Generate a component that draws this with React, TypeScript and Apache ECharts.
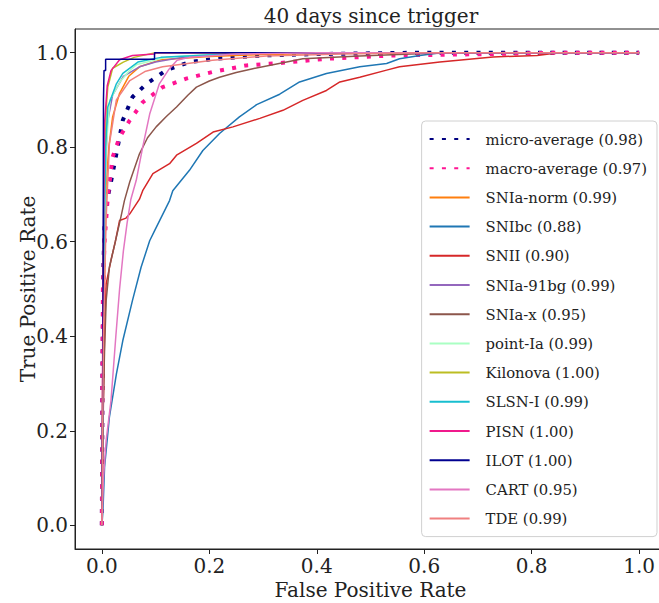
import React, { useEffect, useRef } from "react";
import * as echarts from "echarts";

const TITLE = "40 days since trigger";
const X_NAME = "False Positive Rate";
const Y_NAME = "True Positive Rate";
const TICKS = [0, 0.2, 0.4, 0.6, 0.8, 1.0];

const NAMES = [
  "micro-average (0.98)",
  "macro-average (0.97)",
  "SNIa-norm (0.99)",
  "SNIbc (0.88)",
  "SNII (0.90)",
  "SNIa-91bg (0.99)",
  "SNIa-x (0.95)",
  "point-Ia (0.99)",
  "Kilonova (1.00)",
  "SLSN-I (0.99)",
  "PISN (1.00)",
  "ILOT (1.00)",
  "CART (0.95)",
  "TDE (0.99)",
];

const COLORS = [
  "#000080", "#ff1493", "#ff7f0e", "#1f77b4", "#d62728", "#9467bd", "#8c564b",
  "#aaffc3", "#bcbd22", "#17becf", "#f0198c", "#000090", "#e377c2", "#f08080",
];

// [false positive rate, true positive rate]
const MICRO = [[0,0],[0.001,0.3],[0.003,0.55],[0.005,0.638],[0.01,0.69],[0.017,0.727],[0.027,0.786],[0.039,0.857],[0.057,0.906],[0.083,0.934],[0.12,0.963],[0.163,0.98],[0.21,0.987],[0.3,0.994],[0.4,0.997],[0.6,1],[1,1]];
const MACRO = [[0,0],[0.001,0.3],[0.002,0.5],[0.005,0.6],[0.011,0.694],[0.02,0.779],[0.033,0.821],[0.052,0.857],[0.076,0.895],[0.113,0.927],[0.157,0.945],[0.206,0.959],[0.269,0.973],[0.331,0.978],[0.418,0.987],[0.54,0.994],[0.72,0.997],[0.85,1],[1,1]];
const SNIA_NORM = [[0,0],[0.003,0.4],[0.008,0.72],[0.013,0.8],[0.02,0.864],[0.033,0.914],[0.05,0.95],[0.07,0.97],[0.11,0.985],[0.2,0.992],[0.3,0.996],[0.5,1],[1,1]];
const SNIBC = [[0,0],[0.002,0.03],[0.005,0.123],[0.014,0.229],[0.027,0.32],[0.039,0.391],[0.057,0.476],[0.073,0.546],[0.089,0.602],[0.098,0.623],[0.126,0.687],[0.132,0.708],[0.163,0.751],[0.188,0.793],[0.219,0.829],[0.256,0.864],[0.288,0.89],[0.331,0.912],[0.368,0.938],[0.418,0.956],[0.48,0.97],[0.53,0.977],[0.554,0.987],[0.592,0.994],[0.63,1],[1,1]];
const SNII = [[0,0],[0.002,0.2],[0.005,0.405],[0.008,0.511],[0.017,0.561],[0.025,0.6],[0.033,0.645],[0.045,0.65],[0.052,0.659],[0.07,0.69],[0.076,0.708],[0.095,0.744],[0.126,0.765],[0.139,0.783],[0.176,0.808],[0.207,0.832],[0.244,0.843],[0.294,0.861],[0.337,0.878],[0.374,0.899],[0.418,0.92],[0.443,0.938],[0.48,0.948],[0.53,0.963],[0.554,0.97],[0.629,0.98],[0.728,0.991],[0.81,0.994],[0.85,1],[1,1]];
const SNIA_91BG = [[0,0],[0.003,0.6],[0.01,0.85],[0.02,0.91],[0.04,0.95],[0.07,0.97],[0.1,0.98],[0.15,0.99],[0.2,0.995],[0.3,1],[1,1]];
const SNIA_X = [[0,0],[0.001,0.1],[0.002,0.229],[0.005,0.37],[0.008,0.476],[0.014,0.546],[0.024,0.595],[0.035,0.65],[0.042,0.687],[0.052,0.727],[0.07,0.786],[0.085,0.82],[0.101,0.843],[0.12,0.865],[0.139,0.885],[0.16,0.91],[0.176,0.927],[0.2,0.94],[0.219,0.948],[0.25,0.958],[0.281,0.966],[0.33,0.977],[0.374,0.987],[0.48,0.993],[0.6,0.998],[0.7,1],[1,1]];
const POINT_IA = [[0,0],[0.003,0.5],[0.008,0.8],[0.015,0.9],[0.035,0.94],[0.05,0.96],[0.065,0.975],[0.12,0.99],[0.25,1],[1,1]];
const KILONOVA = [[0,0],[0.003,0.6],[0.008,0.88],[0.011,0.927],[0.014,0.94],[0.02,0.967],[0.04,0.98],[0.06,0.99],[0.1,1],[1,1]];
const SLSN_I = [[0,0],[0.003,0.5],[0.007,0.8],[0.011,0.885],[0.027,0.934],[0.039,0.956],[0.067,0.98],[0.11,0.99],[0.2,0.995],[0.3,1],[1,1]];
const PISN = [[0,0],[0.002,0.5],[0.005,0.85],[0.01,0.93],[0.017,0.962],[0.033,0.985],[0.057,0.994],[0.098,0.997],[0.1,1],[1,1]];
const ILOT = [[0,0],[0.002,0.3],[0.003,0.9],[0.004,0.962],[0.007,0.962],[0.007,0.986],[0.098,0.986],[0.098,1],[1,1]];
const CART = [[0,0],[0.003,0.1],[0.008,0.18],[0.017,0.264],[0.026,0.4],[0.033,0.5],[0.04,0.58],[0.047,0.64],[0.054,0.69],[0.064,0.73],[0.076,0.8],[0.089,0.87],[0.107,0.934],[0.125,0.965],[0.14,0.984],[0.163,0.99],[0.25,0.997],[0.4,1],[1,1]];
const TDE = [[0,0],[0.003,0.4],[0.008,0.65],[0.014,0.807],[0.027,0.9],[0.052,0.941],[0.08,0.96],[0.113,0.97],[0.206,0.984],[0.306,0.993],[0.45,0.997],[0.6,1],[1,1]];

const CURVES = [MICRO, MACRO, SNIA_NORM, SNIBC, SNII, SNIA_91BG, SNIA_X, POINT_IA, KILONOVA, SLSN_I, PISN, ILOT, CART, TDE];

const FONT = "DejaVu Serif";

export default function App() {
  const ref = useRef<HTMLDivElement>(null);
  useEffect(() => {
    if (!ref.current) return;
    const chart = echarts.init(ref.current, null, { renderer: "svg" });
    const series = CURVES.map((data, i) => {
      const dotted = i < 2;
      return {
        type: "line",
        name: NAMES[i],
        data,
        symbol: "none",
        showSymbol: false,
        clip: true,
        z: 2,
        lineStyle: dotted
          ? { color: COLORS[i], width: 4, type: [4, 8.3], cap: "butt" }
          : { color: COLORS[i], width: 1.5 },
        itemStyle: { color: COLORS[i] },
      };
    });
    const axisCommon = {
      type: "value",
      min: -0.05,
      max: 1.05,
      splitLine: { show: false },
      axisLine: { show: true, onZero: false, lineStyle: { color: "#222", width: 1 } },
      axisTick: { show: true, inside: false, length: 5, customValues: TICKS, lineStyle: { color: "#222", width: 1 } },
      axisLabel: {
        customValues: TICKS,
        formatter: (v: number) => v.toFixed(1),
        fontFamily: FONT,
        fontSize: 20,
        color: "#222",
      },
      nameLocation: "middle",
      nameMoveOverlap: false,
      nameTextStyle: { fontFamily: FONT, fontSize: 20, color: "#222" },
    };
    chart.setOption({
      animation: false,
      backgroundColor: "#fff",
      grid: {
        left: 75,
        top: 29,
        right: -7,
        bottom: 54,
        show: true,
        borderColor: "#222",
        borderWidth: 1,
        backgroundColor: "transparent",
        outerBoundsMode: "none",
        containLabel: false,
      },
      xAxis: {
        ...axisCommon,
        name: X_NAME,
        nameGap: 31,
        axisLabel: { ...axisCommon.axisLabel, margin: 7 },
      },
      yAxis: {
        ...axisCommon,
        name: Y_NAME,
        nameGap: 37,
        axisLabel: { ...axisCommon.axisLabel, margin: 7 },
      },
      legend: {
        orient: "vertical",
        right: 2,
        top: 121,
        data: NAMES,
        itemWidth: 40,
        itemHeight: 14,
        itemGap: 11.2,
        padding: [9, 10, 9, 7],
        backgroundColor: "rgba(255,255,255,0.8)",
        borderColor: "#d0d0d0",
        borderWidth: 1,
        borderRadius: 4,
        itemStyle: { opacity: 0, color: "transparent", borderWidth: 0 },
        textStyle: {
          fontFamily: FONT,
          fontSize: 14.8,
          lineHeight: 18,
          color: "#222",
          padding: [0, 0, 0, 11],
        },
      },
      graphic: [
        {
          type: "text",
          x: 371,
          y: 16,
          style: {
            text: TITLE,
            fontFamily: FONT,
            fontSize: 20,
            fill: "#222",
            align: "center",
            verticalAlign: "middle",
          },
        },
      ],
      series,
    });
    return () => chart.dispose();
  }, []);
  return (
    <div
      ref={ref}
      style={{ position: "fixed", left: 0, top: 0, width: 659, height: 603 }}
    />
  );
}
